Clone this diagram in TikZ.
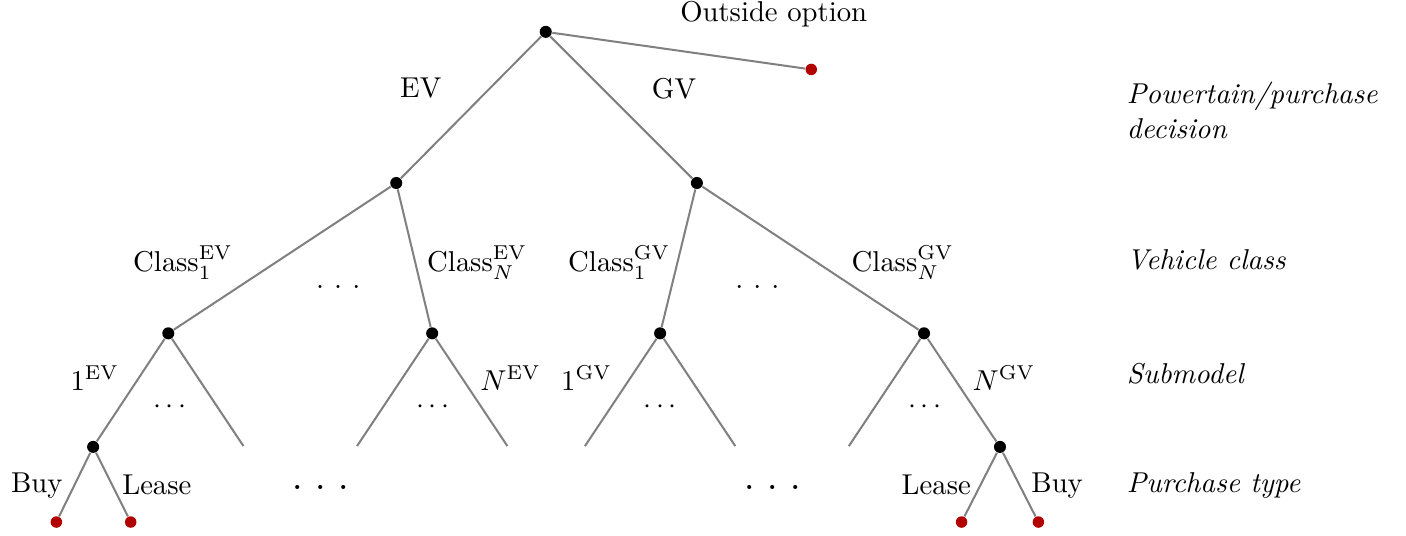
\documentclass[tikz,border=0pt]{standalone}
\usepackage{amssymb}
\usepackage{tikz}
\usepackage{xcolor}
\usetikzlibrary{
    calc,
    positioning
}
\definecolor{leafred}{RGB}{178,0,0}
\newcommand{\gapdots}[1]{.\kern#1.\kern#1.}
\tikzset{
    choice/.style={circle, fill=black, inner sep=0pt, minimum size=4.2pt},
    final/.style={circle, fill=leafred, inner sep=0pt, minimum size=4pt},
    branch/.style={draw=gray, line width=0.7pt},
    level/.style={anchor=west, align=left, font=\itshape}
}

\begin{document}
\begin{tikzpicture}
                        \useasboundingbox (0, 0) rectangle (17.21, 6.55);

                        \node[choice] (root) at (6.68, 6.16) {};
                        \node[final] (out) at (9.93, 5.70) {};
                        \node[choice] (ev) at (4.85, 4.31) {};
                        \node[choice] (gv) at (8.53, 4.31) {};
                        \node[choice] (ev1) at (2.06, 2.47) {};
                        \node[choice] (evn) at (5.29, 2.47) {};
                        \node[choice] (gv1) at (8.08, 2.47) {};
                        \node[choice] (gvn) at (11.31, 2.47) {};
                        \node[choice] (evs) at (1.14, 1.08) {};
                        \node[choice] (gvs) at (12.24, 1.08) {};
                        \node[final] (evbuy) at (0.69, 0.16) {};
                        \node[final] (evlease) at (1.60, 0.16) {};
                        \node[final] (gvlease) at (11.77, 0.16) {};
                        \node[final] (gvbuy) at (12.71, 0.16) {};

                        \foreach \n in {ev1, evn, gv1, gvn} {
                            \coordinate (\n-l) at ($(\n) + (-0.92, -1.38)$);
                            \coordinate (\n-r) at ($(\n) + (0.92, -1.38)$);
                        }

                        \draw[branch] (root) -- (out);
                        \draw[branch] (root) -- (ev);
                        \draw[branch] (root) -- (gv);
                        \draw[branch] (ev) -- (ev1);
                        \draw[branch] (ev) -- (evn);
                        \draw[branch] (gv) -- (gv1);
                        \draw[branch] (gv) -- (gvn);
                        \draw[branch] (ev1) -- (evs);
                        \draw[branch] (ev1) -- (ev1-r);
                        \draw[branch] (evn) -- (evn-l);
                        \draw[branch] (evn) -- (evn-r);
                        \draw[branch] (gv1) -- (gv1-l);
                        \draw[branch] (gv1) -- (gv1-r);
                        \draw[branch] (gvn) -- (gvn-l);
                        \draw[branch] (gvn) -- (gvs);
                        \draw[branch] (evs) -- (evbuy);
                        \draw[branch] (evs) -- (evlease);
                        \draw[branch] (gvs) -- (gvlease);
                        \draw[branch] (gvs) -- (gvbuy);

                        \node (outlbl) at (9.47, 6.38) {Outside option};
                        \node (evlbl) at (5.15, 5.47) {EV};
                        \node (gvlbl) at (8.25, 5.47) {GV};
                        \node (ev1lbl) at (2.24, 3.34) {$\mathrm{Class}_1^{\mathrm{EV}}$};
                        \node (evnlbl) at (5.84, 3.34) {$\mathrm{Class}_N^{\mathrm{EV}}$};
                        \node (gv1lbl) at (7.58, 3.34) {$\mathrm{Class}_1^{\mathrm{GV}}$};
                        \node (gvnlbl) at (11.05, 3.34) {$\mathrm{Class}_N^{\mathrm{GV}}$};
                        \node (evdots) at (4.14, 3.04) {\gapdots{3.5pt}};
                        \node (gvdots) at (9.27, 3.04) {\gapdots{3.5pt}};
                        \node (ev1sub) at (1.16, 1.92) {$1^{\mathrm{EV}}$};
                        \node (evnsub) at (6.25, 1.92) {$N^{\mathrm{EV}}$};
                        \node (gv1sub) at (7.18, 1.92) {$1^{\mathrm{GV}}$};
                        \node (gvnsub) at (12.29, 1.92) {$N^{\mathrm{GV}}$};
                        \node (ev1dots) at (2.08, 1.57) {$\cdots$};
                        \node (evndots) at (5.30, 1.57) {$\cdots$};
                        \node (gv1dots) at (8.08, 1.57) {$\cdots$};
                        \node (gvndots) at (11.32, 1.57) {$\cdots$};
                        \node (evbuylbl) at (0.45, 0.61) {Buy};
                        \node (evleaselbl) at (1.92, 0.61) {Lease};
                        \node (evbigdots) at (3.92, 0.58) {\LARGE\gapdots{3.7pt}};
                        \node (gvbigdots) at (9.46, 0.58) {\LARGE\gapdots{3.7pt}};
                        \node (gvleaselbl) at (11.46, 0.61) {Lease};
                        \node (gvbuylbl) at (12.94, 0.61) {Buy};

                        \node[level] (lvl1) at (13.67, 5.20) {Powertain/purchase\\decision};
                        \node[level] (lvl2) at (13.67, 3.37) {Vehicle class};
                        \node[level] (lvl3) at (13.67, 1.97) {Submodel};
                        \node[level] (lvl4) at (13.67, 0.61) {Purchase type};
                    \end{tikzpicture}
\end{document}
